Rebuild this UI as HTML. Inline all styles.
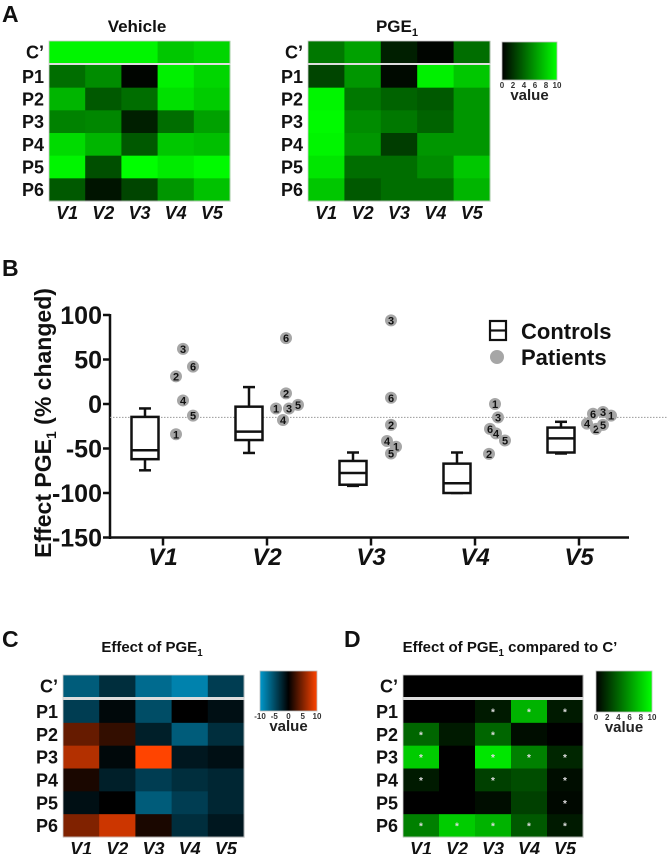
<!DOCTYPE html>
<html><head><meta charset="utf-8"><style>
html,body{margin:0;padding:0;background:#fff;}
svg{display:block;font-family:"Liberation Sans",Arial,sans-serif;}
</style></head><body>
<svg id="fig" width="668" height="854" viewBox="0 0 668 854">
<g id="panelA"></g>
<g id="panelB"></g>
<g id="panelC"></g>
<g id="panelD"></g>
</svg>
<script>
const NS="http://www.w3.org/2000/svg";
const rowNames=["C’","P1","P2","P3","P4","P5","P6"];
const colNames=["V1","V2","V3","V4","V5"];
// Panel A data (0-10 scale)
const vehicleVals=[[9.6,9.6,9.6,7.8,8.4],[4.3,5.5,0.2,9.4,8.4],[7.1,3.5,4.3,8.8,8.0],[5.1,5.3,1.2,4.3,6.3],[8.6,7.1,3.5,7.8,7.5],[9.6,3.1,10,9.2,9.8],[3.5,0.8,2.7,5.9,7.6]];
const pgeVals=[[4.7,6.3,1.2,0.2,4.3],[2.7,5.9,0.4,9.4,7.8],[9.6,4.7,3.9,3.5,5.9],[9.8,5.5,4.7,3.9,5.9],[9.6,5.9,2.4,5.9,5.9],[9.0,4.3,4.3,5.5,7.8],[7.8,3.5,4.3,4.3,7.1]];
// Panel C data (-10..10)
const effectVals=[[-6,-3,-7,-8.5,-4],[-4,-0.5,-5,0,-1],[4,2,-2,-6,-3],[7,-0.5,10,-1.5,-1],[1,-2,-4,-3,-2.5],[-1,0,-6,-4,-2.5],[5,8,1,-3,-1.5]];
// Panel D data (0..10) and significance stars
const compVals=[[0,0,0,0,0],[0,0,1,7,1],[4,1,4,0.5,0],[8,0,9,5,1.5],[1,0,2.5,3,0.5],[0,0,0.5,2.5,0.3],[5,8,7,3.5,1]];
const compStars=[[0,0,0,0,0],[0,0,1,1,1],[1,0,1,0,0],[1,0,1,1,1],[1,0,1,0,1],[0,0,0,0,1],[1,1,1,1,1]];
// Panel B data
const categories=["V1","V2","V3","V4","V5"];
const boxWhiskerMax=[-5,19,-54.5,-54.5,-20];
const boxQ3=[-14.5,-3,-64,-67,-26.5];
const boxMedian=[-52,-31,-77.5,-89,-38.6];
const boxQ1=[-62,-40.5,-90.7,-100,-54.5];
const boxWhiskerMin=[-74.5,-55,-92,-100,-55.6];
const patientIds=["1","2","3","4","5","6"];
const patientV1=[-34,31,62,4,-13,42];
const patientV2=[-5,12,-5,-18,-1,74];
const patientV3=[-48,-23.5,94,-41.6,-55.6,7];
const patientV4=[0,-56,-15,-33,-41,-28];
const patientV5=[-13,-28,-9,-22,-23.5,-11];
const patientSeries=[patientV1,patientV2,patientV3,patientV4,patientV5];
const yTicks=[100,50,0,-50,-100,-150];
const refLine=-15;
// horizontal jitter (layout, px) per category per patient 1..6
const jitter=[[13,13,20,20,30,30],[9,19,22,16,31,19],[25,20,20,16,20,20],[20,14,23,21,30,15],[32,17,24,8,24,14]];

function el(tag,attrs,parent,text){const e=document.createElementNS(NS,tag);for(const k in attrs)e.setAttribute(k,attrs[k]);if(text!==undefined)e.textContent=text;parent.appendChild(e);return e;}
function greenColor(v){const g=Math.round(Math.max(0,Math.min(10,v))/10*255);return `rgb(0,${g},0)`;}
function divColor(v){v=Math.max(-10,Math.min(10,v));if(v<0){const t=-v/10;return `rgb(0,${Math.round(153*t)},${Math.round(204*t)})`;}const t=v/10;return `rgb(${Math.round(255*t)},${Math.round(68*t)},0)`;}

function heatmap(parent,name,x0,x1,cTop,cBot,pTop,pBot,vals,colorFn,stars){
  const g=el("g",{},parent);
  
  
  const cw=(x1-x0)/5, ph=(pBot-pTop)/6;
  for(let r=0;r<7;r++){
    const y=r===0?cTop:pTop+(r-1)*ph, h=r===0?cBot-cTop:ph;
    for(let c=0;c<5;c++){
      const rc=el("rect",{x:x0+c*cw,y:y,width:cw+0.5,height:h+0.5,fill:colorFn(vals[r][c])},g);
      
      
      if(stars&&stars[r][c]){
        const s=el("text",{x:x0+c*cw+cw/2,y:y+h/2+4,"text-anchor":"middle","font-size":"10","font-weight":"bold",fill:"#ddd"},g,"*");
        
        
      }
    }
    const lb=el("text",{x:x0-5,y:y+h/2+6.5,"text-anchor":"end","font-size":"18","font-weight":"bold",fill:"#111"},g,rowNames[r]);
    
    
  }
  el("rect",{x:x0,y:cBot,width:x1-x0,height:pTop-cBot,fill:"#ddd"},g);
  el("rect",{x:x0,y:cTop,width:x1-x0,height:pBot-cTop,fill:"none",stroke:"#ccc","stroke-width":"0.8"},g);
  for(let c=0;c<5;c++){
    const t=el("text",{x:x0+c*cw+cw/2,y:pBot+18,"text-anchor":"middle","font-size":"18","font-weight":"bold","font-style":"italic",fill:"#111"},g,colNames[c]);
    
    
  }
}
function colorbar(parent,x,y,w,h,stops,ticks,idp){
  const g=el("g",{},parent);
  
  
  const defs=el("defs",{},g);const lg=el("linearGradient",{id:idp,x1:"0",x2:"1",y1:"0",y2:"0"},defs);
  stops.forEach((s,i)=>el("stop",{offset:(i/(stops.length-1)*100)+"%","stop-color":s},lg));
  el("rect",{x:x,y:y,width:w,height:h,fill:`url(#${idp})`,stroke:"#bbb","stroke-width":"0.8"},g);
  ticks.forEach((t,i)=>{el("text",{x:x+i*w/(ticks.length-1),y:y+h+8,"text-anchor":"middle","font-size":"8","font-weight":"bold",fill:"#333"},g,t);});
  const v=el("text",{x:x+w/2,y:y+h+20,"text-anchor":"middle","font-size":"15","font-weight":"bold",fill:"#222"},g,"value");
  
  
}
function title(parent,x,y,main,sub,rest,size,name){
  const t=el("text",{x:x,y:y,"text-anchor":"middle","font-size":size,"font-weight":"bold",fill:"#111"},parent);
  
  
  el("tspan",{},t,main);
  if(sub){el("tspan",{"font-size":size*0.65,dy:"4"},t,sub);el("tspan",{dy:"-4"},t,rest||"");}
}
function panelLetter(parent,x,y,l){const t=el("text",{x:x,y:y,"font-size":"23","font-weight":"bold",fill:"#111"},parent,l);}

// Panel A
const A=document.getElementById("panelA");
panelLetter(A,2,22,"A");
title(A,137,32,"Vehicle",null,null,17,"vehicle-title");
title(A,397,32,"PGE","1","",17,"pge1-title");
heatmap(A,"vehicle-heatmap",49,230,41,63,65,201,vehicleVals,greenColor);
heatmap(A,"pge1-heatmap",308,490,41,63,65,201,pgeVals,greenColor);
colorbar(A,502,42,55,38,["#000","#00ff00"],["0","2","4","6","8","10"],"gA");

// Panel C
const C=document.getElementById("panelC");
panelLetter(C,2,647,"C");
title(C,152,652,"Effect of PGE","1","",15,"effect-title");
heatmap(C,"effect-heatmap",63,244,675,697,700,837,effectVals,divColor);
colorbar(C,260,671,57,40,["#0099cc","#000","#ff4400"],["-10","-5","0","5","10"],"gC");

// Panel D
const D=document.getElementById("panelD");
panelLetter(D,344,647,"D");
title(D,510,652,"Effect of PGE","1"," compared to C’",15,"comparison-title");
heatmap(D,"comparison-heatmap",403,583,675,697,700,837,compVals,greenColor,compStars);
colorbar(D,596,671,56,41,["#000","#00ff00"],["0","2","4","6","8","10"],"gD");

// Panel B
const B=document.getElementById("panelB");
panelLetter(B,2,276,"B");
const axX=110, axEnd=629, xCat0=163, xStep=104;
function yScale(v){return 404-v*0.89;}
function xScale(i){return xCat0+i*xStep;}
const yAxis=el("g",{},B);


el("line",{x1:axX,y1:yScale(100)-1,x2:axX,y2:yScale(-150)+1.5,stroke:"#111","stroke-width":"2.5"},yAxis);
yTicks.forEach(t=>{
  el("line",{x1:axX-7,y1:yScale(t),x2:axX,y2:yScale(t),stroke:"#111","stroke-width":"2.5"},yAxis);
  const tl=el("text",{x:axX-8,y:yScale(t)+9,"text-anchor":"end","font-size":"25","font-weight":"bold",fill:"#111"},yAxis,String(t));
  
  
});
const yt=el("text",{transform:"translate(51,423) rotate(-90)","text-anchor":"middle","font-size":"23","font-weight":"bold",fill:"#111"},B);


el("tspan",{},yt,"Effect PGE");el("tspan",{"font-size":"14",dy:"5"},yt,"1");el("tspan",{dy:"-5"},yt," (% changed)");
const xAxis=el("g",{},B);


el("line",{x1:axX,y1:yScale(-150),x2:axEnd,y2:yScale(-150),stroke:"#111","stroke-width":"2.5"},xAxis);
categories.forEach((c,i)=>{
  el("line",{x1:xScale(i),y1:yScale(-150),x2:xScale(i),y2:yScale(-150)+8,stroke:"#111","stroke-width":"2.5"},xAxis);
  const tl=el("text",{x:xScale(i),y:565,"text-anchor":"middle","font-size":"24","font-weight":"bold","font-style":"italic",fill:"#111"},xAxis,c);
  
  
});
const ref=el("line",{x1:axX,y1:yScale(refLine),x2:668,y2:yScale(refLine),stroke:"#999","stroke-width":"1","stroke-dasharray":"1.5,1.5"},B);


categories.forEach((c,i)=>{
  const g=el("g",{},B);
  
  
  const cx=xScale(i)-18, bw=27, cap=12;
  const s={stroke:"#111","stroke-width":"2.5",fill:"none"};
  el("line",Object.assign({x1:cx,y1:yScale(boxWhiskerMax[i]),x2:cx,y2:yScale(boxQ3[i])},s),g);
  el("line",Object.assign({x1:cx,y1:yScale(boxQ1[i]),x2:cx,y2:yScale(boxWhiskerMin[i])},s),g);
  el("line",Object.assign({x1:cx-cap/2,y1:yScale(boxWhiskerMax[i]),x2:cx+cap/2,y2:yScale(boxWhiskerMax[i])},s),g);
  el("line",Object.assign({x1:cx-cap/2,y1:yScale(boxWhiskerMin[i]),x2:cx+cap/2,y2:yScale(boxWhiskerMin[i])},s),g);
  el("rect",Object.assign({x:cx-bw/2,y:yScale(boxQ3[i]),width:bw,height:yScale(boxQ1[i])-yScale(boxQ3[i])},s,{fill:"#fff"}),g);
  el("line",Object.assign({x1:cx-bw/2,y1:yScale(boxMedian[i]),x2:cx+bw/2,y2:yScale(boxMedian[i])},s),g);
});
patientSeries.forEach((vals,i)=>{
  vals.forEach((v,j)=>{
    const g=el("g",{},B);
    
    
    const px=xScale(i)+jitter[i][j], py=yScale(v);
    el("circle",{cx:px,cy:py,r:6,fill:"#a6a6a6"},g);
    el("text",{x:px,y:py+4,"text-anchor":"middle","font-size":"11","font-weight":"bold",fill:"#111"},g,patientIds[j]);
  });
});
const lg=el("g",{},B);


el("rect",{x:490,y:321,width:16,height:19,fill:"#fff",stroke:"#111","stroke-width":"2.2"},lg);
el("line",{x1:490,y1:330.5,x2:506,y2:330.5,stroke:"#111","stroke-width":"2.2"},lg);
const l1=el("text",{x:521,y:339,"font-size":"22","font-weight":"bold",fill:"#111"},lg,"Controls");


el("circle",{cx:497,cy:357,r:7,fill:"#a6a6a6"},lg);
const l2=el("text",{x:521,y:365,"font-size":"22","font-weight":"bold",fill:"#111"},lg,"Patients");


</script>
</body></html>
